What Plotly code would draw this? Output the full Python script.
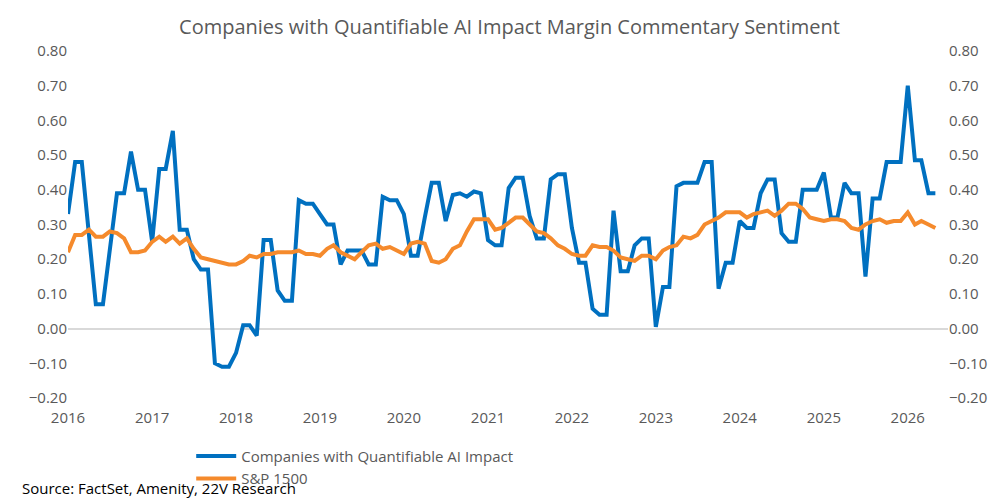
import plotly.graph_objects as go
import pandas as pd

dates = pd.date_range("2016-01-01", periods=125, freq="MS")

ai_impact = [
    0.33, 0.48, 0.48, 0.28, 0.07, 0.07, 0.23, 0.39, 0.39, 0.51, 0.40, 0.40,
    0.25, 0.46, 0.46, 0.57, 0.285, 0.285, 0.20, 0.17, 0.17, -0.10, -0.11, -0.11,
    -0.07, 0.01, 0.01, -0.02, 0.255, 0.255, 0.11, 0.08, 0.08, 0.37, 0.36, 0.36,
    0.33, 0.30, 0.30, 0.185, 0.225, 0.225, 0.225, 0.185, 0.185, 0.38, 0.37, 0.37,
    0.33, 0.21, 0.21, 0.32, 0.42, 0.42, 0.31, 0.385, 0.39, 0.38, 0.395, 0.39,
    0.255, 0.24, 0.24, 0.405, 0.435, 0.435, 0.325, 0.26, 0.26, 0.43, 0.445, 0.445,
    0.29, 0.19, 0.19, 0.057, 0.04, 0.04, 0.34, 0.165, 0.165, 0.24, 0.26, 0.26,
    0.005, 0.12, 0.12, 0.41, 0.42, 0.42, 0.42, 0.48, 0.48, 0.115, 0.19, 0.19,
    0.31, 0.29, 0.29, 0.39, 0.43, 0.43, 0.275, 0.25, 0.25, 0.40, 0.40, 0.40,
    0.45, 0.32, 0.32, 0.42, 0.39, 0.39, 0.15, 0.375, 0.375, 0.48, 0.48, 0.48,
    0.70, 0.485, 0.485, 0.39, 0.39,
]

sp1500 = [
    0.22, 0.27, 0.27, 0.285, 0.265, 0.265, 0.28, 0.275, 0.26, 0.22, 0.22, 0.225,
    0.25, 0.265, 0.25, 0.265, 0.245, 0.26, 0.23, 0.205, 0.20, 0.195, 0.19, 0.185,
    0.185, 0.195, 0.21, 0.205, 0.215, 0.215, 0.22, 0.22, 0.22, 0.225, 0.215, 0.215,
    0.21, 0.23, 0.24, 0.22, 0.21, 0.20, 0.22, 0.24, 0.245, 0.23, 0.235, 0.225,
    0.215, 0.245, 0.25, 0.245, 0.195, 0.19, 0.20, 0.23, 0.24, 0.28, 0.315, 0.315,
    0.315, 0.285, 0.29, 0.305, 0.32, 0.32, 0.30, 0.28, 0.275, 0.26, 0.24, 0.23,
    0.215, 0.21, 0.21, 0.24, 0.235, 0.235, 0.225, 0.205, 0.20, 0.195, 0.21, 0.21,
    0.20, 0.225, 0.235, 0.24, 0.265, 0.26, 0.27, 0.30, 0.31, 0.32, 0.335, 0.335,
    0.335, 0.32, 0.33, 0.335, 0.34, 0.325, 0.34, 0.36, 0.36, 0.345, 0.32, 0.315,
    0.31, 0.315, 0.315, 0.31, 0.29, 0.285, 0.30, 0.31, 0.315, 0.305, 0.31, 0.31,
    0.335, 0.30, 0.31, 0.30, 0.29,
]

yrange = [-0.2, 0.8]
grey = "#595959"

fig = go.Figure()
fig.add_trace(go.Scatter(x=dates, y=ai_impact, mode="lines",
                         name="Companies with Quantifiable AI Impact",
                         line=dict(color="#0070C0", width=4)))
fig.add_trace(go.Scatter(x=dates, y=sp1500, mode="lines", name="S&P 1500",
                         yaxis="y2", line=dict(color="#F58A2C", width=4)))

tickfont = dict(family="Open Sans, Liberation Sans", size=15, color=grey)
fig.update_layout(
    width=1003, height=499,
    plot_bgcolor="white", paper_bgcolor="white",
    margin=dict(l=60, r=63, t=43, b=104),
    title=dict(text="Companies with Quantifiable AI Impact Margin Commentary Sentiment",
               x=0.5, xanchor="center", y=0.975, yanchor="top",
               font=dict(family="Open Sans, Liberation Sans", size=20, color=grey)),
    xaxis=dict(range=["2016-01-01", "2026-06-25"], dtick="M12", tickformat="%Y",
               showgrid=False, showline=False, ticks="outside", ticklen=6,
               tickcolor="rgba(0,0,0,0)", tickfont=tickfont),
    yaxis=dict(range=yrange, dtick=0.1, tickformat=".2f", showgrid=False,
               zeroline=True, zerolinecolor="#D9D9D9", zerolinewidth=2,
               tickfont=tickfont),
    yaxis2=dict(range=yrange, dtick=0.1, tickformat=".2f", showgrid=False,
                overlaying="y", side="right", zeroline=False, tickfont=tickfont),
    legend=dict(orientation="h", x=0.14, xanchor="left", y=-0.12, yanchor="top",
                entrywidth=470, entrywidthmode="pixels", itemwidth=40,
                font=dict(family="Open Sans, Liberation Sans", size=15, color=grey)),
    annotations=[dict(text="Source: FactSet, Amenity, 22V Research", xref="paper",
                      yref="paper", x=-0.055, y=-0.225, xanchor="left", yanchor="top",
                      showarrow=False,
                      font=dict(family="Open Sans, Liberation Sans", size=15, color="black"))],
)

fig.write_html("out.html")
